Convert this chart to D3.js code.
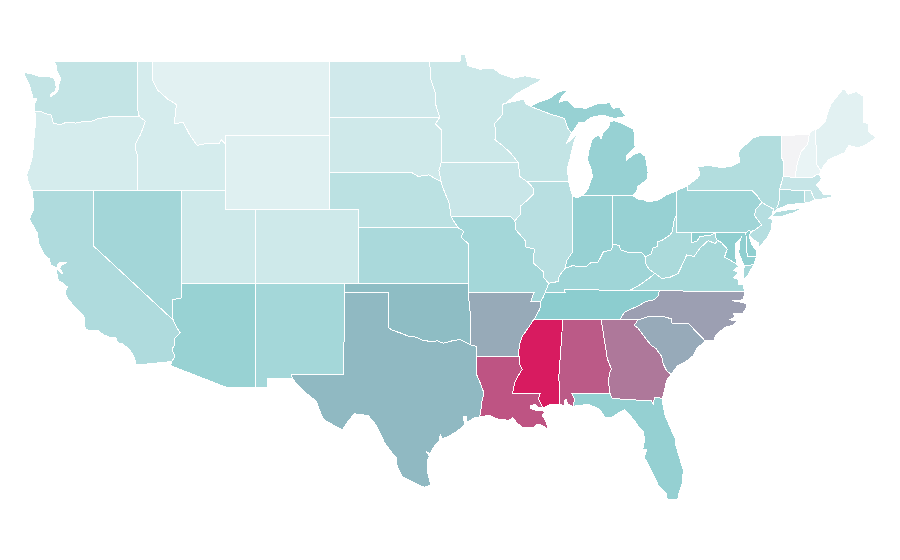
<!DOCTYPE html>
<html><head><meta charset="utf-8">
<style>html,body{margin:0;background:#fff}svg{display:block}</style>
<script src="https://cdn.jsdelivr.net/npm/d3@7"></script></head>
<body><svg id="map" width="900" height="560"></svg>
<script>
// Colour values, one per state
const states = ["WA","OR","CA","NV","ID","MT","WY","UT","CO","AZ","NM","ND","SD","NE","KS","OK","TX","MN","IA","MO","AR","LA","WI","IL","MI","IN","OH","KY","TN","MS","AL","GA","FL","SC","NC","VA","WV","MD","DE","PA","NY","NJ","CT","RI","MA","VT","NH","ME"];
const values = [22,13.5,31.5,37.2,13.5,7.3,8.7,16.8,16.8,42.6,36.7,15.9,16.3,25.8,33.9,54,55,17.8,19.2,36.7,59.5,83.8,22,27.2,43,43,43,39,48,100,82,73.6,44,59.4,62.5,35.8,33.4,46,46,38.6,30,28.7,32,22,20.6,0,4,7.3];
const colorDomain = [0,4,50,100];
const colorRange = ["#f3f3f5","#e9f4f5","#88cbcd","#d81b60"];

// Shared boundary lines, [longitude, latitude]
const arcs = {
n_wa:[[-122.76,49],[-117.04,49]],
id_wa:[[-117.04,49],[-117.04,46.42],[-116.92,46]],
wa_or:[[-124,46.27],[-123.55,46.25],[-123.2,46.15],[-122.9,46.08],[-122.8,45.85],[-122.75,45.65],[-122.3,45.55],[-121.9,45.68],[-121.2,45.65],[-120.65,45.74],[-120.2,45.73],[-119.6,45.92],[-119.1,45.93],[-118.98,46],[-116.92,46]],
c_wa:[[-124,46.27],[-124.05,46.65],[-123.85,46.95],[-124.1,46.95],[-124.2,47.25],[-124.4,47.75],[-124.65,48.15],[-124.72,48.38],[-124.2,48.3],[-123.7,48.17],[-123.1,48.15],[-122.75,48.12],[-122.6,47.85],[-122.55,47.6],[-122.62,47.35],[-122.95,47.2],[-122.9,47.08],[-122.55,47.28],[-122.4,47.5],[-122.36,47.75],[-122.25,48.05],[-122.38,48.28],[-122.5,48.45],[-122.55,48.78],[-122.76,49]],
c_or:[[-124,46.27],[-123.95,45.9],[-123.97,45.5],[-124.05,44.9],[-124.1,44.4],[-124.15,43.9],[-124.35,43.3],[-124.55,42.85],[-124.42,42.4],[-124.2,42]],
id_or:[[-116.92,46],[-116.5,45.75],[-116.85,45],[-117.2,44.5],[-117.2,44.3],[-117.03,43.85],[-117.03,42]],
nv_or:[[-120,42],[-117.03,42]],
ca_or:[[-124.2,42],[-120,42]],
ca_nv:[[-120,42],[-120,39],[-114.63,35]],
ca_az:[[-114.63,35],[-114.4,34.6],[-114.14,34.3],[-114.5,34],[-114.52,33.65],[-114.7,33.4],[-114.5,33],[-114.72,32.72]],
mx_ca:[[-114.72,32.72],[-117.12,32.53]],
c_ca:[[-124.2,42],[-124.1,41.5],[-124.07,41],[-124.38,40.45],[-124.1,40.1],[-123.82,39.7],[-123.75,39.2],[-123.4,38.6],[-123,38.3],[-122.95,38],[-122.5,37.82],[-122.45,38],[-122.3,38.12],[-121.85,38.1],[-122.2,38],[-122.3,37.8],[-122.1,37.5],[-122.4,37.7],[-122.5,37.75],[-122.5,37.5],[-122.4,37.15],[-122,36.95],[-121.8,36.8],[-121.95,36.55],[-121.85,36.25],[-121.3,35.7],[-120.9,35.4],[-120.65,35.15],[-120.63,34.6],[-120.45,34.45],[-119.7,34.4],[-119.25,34.15],[-118.8,34.02],[-118.5,34.03],[-118.4,33.75],[-118.1,33.72],[-117.6,33.4],[-117.28,33],[-117.12,32.53]],
id_nv:[[-117.03,42],[-114.04,42]],
nv_ut:[[-114.04,42],[-114.05,37]],
az_nv:[[-114.05,37],[-114.05,36.2],[-114.4,36.15],[-114.7,36.1],[-114.65,35.6],[-114.63,35]],
n_id:[[-117.04,49],[-116.05,49]],
id_mt:[[-116.05,49],[-116.05,48],[-115.7,47.45],[-115,46.95],[-114.4,46.65],[-114.55,45.6],[-113.95,45.7],[-113.45,44.95],[-113,44.45],[-112.3,44.55],[-111.5,44.55],[-111.35,44.75],[-111.05,44.5]],
id_wy:[[-111.05,44.5],[-111.05,42]],
id_ut:[[-111.05,42],[-114.04,42]],
n_mt:[[-116.05,49],[-104.05,49]],
mt_nd:[[-104.05,49],[-104.05,45.94]],
mt_sd:[[-104.05,45.94],[-104.05,45]],
mt_wy:[[-104.05,45],[-111.05,45]],
mt_wy2:[[-111.05,45],[-111.05,44.5]],
ut_wy:[[-111.05,42],[-111.05,41],[-109.05,41]],
co_wy:[[-109.05,41],[-104.05,41]],
ne_wy:[[-104.05,41],[-104.05,43]],
sd_wy:[[-104.05,43],[-104.05,45]],
co_ut:[[-109.05,41],[-109.05,37]],
az_ut:[[-109.05,37],[-114.05,37]],
ne_co:[[-104.05,41],[-102.05,41],[-102.05,40]],
co_ks:[[-102.05,40],[-102.05,37]],
co_ok:[[-102.05,37],[-103,37]],
co_nm:[[-103,37],[-109.05,37]],
mx_az:[[-114.72,32.72],[-114.8,32.5],[-111.07,31.33],[-109.05,31.33]],
az_nm:[[-109.05,31.33],[-109.05,37]],
nm_ok:[[-103,37],[-103,36.5]],
nm_tx:[[-103,36.5],[-103.06,32],[-106.62,32],[-106.53,31.78]],
mx_nm:[[-106.53,31.78],[-108.2,31.78],[-108.2,31.33],[-109.05,31.33]],
ok_ks:[[-102.05,37],[-94.62,37]],
tx_ok:[[-103,36.5],[-100,36.5],[-100,34.56],[-99.7,34.42],[-99.2,34.28],[-98.7,34.12],[-98.1,34.05],[-97.75,33.9],[-97.2,33.82],[-96.7,33.85],[-96.3,33.72],[-95.6,33.88],[-95.15,33.92],[-94.48,33.64]],
ar_ok:[[-94.48,33.64],[-94.48,35.4],[-94.62,36.5]],
mo_ok:[[-94.62,36.5],[-94.62,37]],
ar_tx:[[-94.48,33.64],[-94.04,33.55],[-94.04,33.02]],
la_tx:[[-94.04,33.02],[-94.04,32],[-93.8,31.55],[-93.55,31],[-93.7,30.5],[-93.75,30.1],[-93.84,29.7]],
c_tx:[[-93.84,29.7],[-94.2,29.65],[-94.7,29.4],[-94.7,29.75],[-94.95,29.7],[-94.85,29.3],[-95.3,28.95],[-95.9,28.65],[-96.4,28.5],[-96.5,28.75],[-96.6,28.38],[-97,28],[-97.2,27.7],[-97.45,27.8],[-97.25,27.55],[-97.4,27.3],[-97.35,26.6],[-97.15,25.96]],
mx_tx:[[-97.15,25.96],[-97.6,25.85],[-98.3,26.1],[-99.1,26.45],[-99.45,27.05],[-99.5,27.5],[-99.8,27.75],[-100.3,28.3],[-100.65,28.9],[-100.95,29.35],[-101.4,29.77],[-102.35,29.87],[-102.85,29.35],[-103.15,28.98],[-103.8,29.27],[-104.4,29.55],[-104.7,30.05],[-104.9,30.55],[-105.4,30.85],[-106.2,31.47],[-106.53,31.78]],
ks_ne:[[-102.05,40],[-95.31,40]],
ks_mo:[[-95.31,40],[-94.9,39.8],[-95.1,39.5],[-94.6,39.12],[-94.62,37]],
mo_ne:[[-95.77,40.58],[-95.31,40]],
ia_ne:[[-96.45,42.49],[-96.35,42.2],[-96.1,41.7],[-95.93,41.4],[-95.85,41],[-95.77,40.58]],
ne_sd:[[-104.05,43],[-98.5,43],[-98,42.77],[-97.3,42.85],[-96.45,42.49]],
sd_nd:[[-104.05,45.94],[-96.55,45.95]],
mn_sd:[[-96.45,43.5],[-96.45,45.3],[-96.85,45.6],[-96.55,45.95]],
ia_sd:[[-96.45,43.5],[-96.6,43.1],[-96.45,42.49]],
n_nd:[[-104.05,49],[-97.23,49]],
mn_nd:[[-96.55,45.95],[-96.8,46.6],[-96.85,47.3],[-97.15,48],[-97.23,49]],
n_mn:[[-97.23,49],[-95.15,49],[-95.15,49.38],[-94.8,49.33],[-94.65,48.75],[-93.8,48.55],[-93.35,48.62],[-92.95,48.62],[-92.4,48.3],[-91.5,48.07],[-90.8,48.2],[-90.1,48.1],[-89.6,48],[-90.5,47.6],[-91.3,47.25],[-92.05,46.72]],
mn_wi:[[-92.05,46.72],[-92.3,46.66],[-92.3,46.1],[-92.85,45.6],[-92.75,45.3],[-92.8,44.75],[-92.3,44.45],[-91.7,44],[-91.22,43.5]],
ia_mn:[[-91.22,43.5],[-96.45,43.5]],
ia_mo:[[-91.45,40.38],[-91.75,40.61],[-95.77,40.58]],
ia_il:[[-91.45,40.38],[-91.1,40.7],[-91.1,41.15],[-90.65,41.45],[-90.2,41.8],[-90.15,42.1],[-90.64,42.5]],
ia_wi:[[-90.64,42.5],[-91.1,42.75],[-91.22,43.5]],
il_mo:[[-89.15,37],[-89.5,37.3],[-89.5,37.6],[-90.2,38.1],[-90.2,38.4],[-90.12,38.85],[-90.7,38.95],[-90.75,39.3],[-91.4,39.9],[-91.45,40.38]],
ky_mo:[[-89.15,37],[-89.4,36.5]],
mo_tn:[[-89.4,36.5],[-89.53,36.25],[-89.7,36]],
ar_mo:[[-89.7,36],[-90.37,36],[-90.15,36.5],[-94.62,36.5]],
ar_tn:[[-89.7,36],[-89.75,35.6],[-90.1,35.1],[-90.2,35]],
ar_ms:[[-90.2,35],[-90.3,34.85],[-90.6,34.5],[-90.95,34.1],[-91.1,33.75],[-91.2,33.3],[-91.17,33]],
ar_la:[[-94.04,33.02],[-91.17,33]],
la_ms:[[-91.17,33],[-91.1,32.5],[-90.95,32.3],[-91.15,32.05],[-91.45,31.6],[-91.6,31],[-89.73,31],[-89.85,30.7],[-89.75,30.5],[-89.55,30.2]],
c_la:[[-93.84,29.7],[-93.2,29.78],[-92.6,29.58],[-92.2,29.55],[-91.85,29.5],[-91.6,29.65],[-91.3,29.35],[-90.9,29.1],[-90.2,29.1],[-90.05,29.25],[-89.75,29.3],[-89.45,29.15],[-89.15,29],[-89.4,29.55],[-89.6,29.75],[-89.4,30],[-89.75,30.05],[-90,30.05],[-90.4,30.15],[-90.4,30.3],[-90.1,30.37],[-89.8,30.2],[-89.55,30.2]],
c_ms:[[-89.55,30.2],[-89,30.38],[-88.4,30.37]],
al_ms:[[-88.4,30.37],[-88.47,31.9],[-88.2,35]],
ms_tn:[[-88.2,35],[-90.2,35]],
al_tn:[[-88.2,35],[-85.6,35]],
al_ga:[[-85.6,35],[-85.18,32.87],[-84.9,32.3],[-85.05,32.1],[-85.1,31.55],[-85,31]],
al_fl:[[-85,31],[-87.6,31],[-87.4,30.65],[-87.52,30.28]],
c_al:[[-87.52,30.28],[-87.9,30.4],[-87.93,30.65],[-88.05,30.65],[-88.13,30.33],[-88.4,30.37]],
ga_tn:[[-85.6,35],[-84.32,35]],
ga_nc:[[-84.32,35],[-83.11,35]],
ga_sc:[[-83.11,35],[-83.35,34.7],[-83.1,34.55],[-82.6,34],[-82.2,33.6],[-81.9,33.45],[-81.5,33],[-81.4,32.6],[-81.15,32.2],[-80.85,32.03]],
c_ga:[[-80.85,32.03],[-81.15,31.7],[-81.3,31.2],[-81.45,30.72]],
fl_ga:[[-81.45,30.72],[-82,30.75],[-82.05,30.37],[-82.2,30.57],[-84.86,30.7],[-85,31]],
c_fl:[[-87.52,30.28],[-86.5,30.38],[-85.75,30.15],[-85.35,29.68],[-84.9,29.65],[-84.35,29.95],[-84,30.1],[-83.4,29.55],[-83.05,29.15],[-82.75,28.9],[-82.65,28.4],[-82.8,27.9],[-82.5,27.9],[-82.7,27.5],[-82.4,27.1],[-82.05,26.5],[-81.8,26.1],[-81.7,25.9],[-81.2,25.5],[-81.1,25.15],[-80.4,25.2],[-80.3,25.6],[-80.1,26.1],[-80.03,26.8],[-80.3,27.5],[-80.55,28.2],[-80.55,28.45],[-80.85,29],[-81.25,29.75],[-81.4,30.3],[-81.45,30.72]],
c_sc:[[-80.85,32.03],[-80.65,32.25],[-80.4,32.5],[-79.9,32.7],[-79.35,33.05],[-79.15,33.4],[-78.55,33.85]],
nc_sc:[[-78.55,33.85],[-79.68,34.8],[-80.8,34.82],[-80.8,35.05],[-81.05,35.1],[-81.05,35.15],[-82.3,35.2],[-83.11,35]],
nc_tn:[[-84.32,35],[-84.05,35.4],[-83.7,35.55],[-83.1,35.75],[-82.6,36],[-82,36.1],[-81.7,36.35],[-81.67,36.59]],
nc_va:[[-81.67,36.59],[-75.87,36.55]],
c_nc:[[-75.87,36.55],[-75.95,36.1],[-76.7,36.05],[-76,35.95],[-75.75,35.85],[-75.75,35.65],[-76,35.35],[-76.65,35.35],[-76.5,35.15],[-76.9,35],[-76.35,34.95],[-76.65,34.7],[-77.2,34.6],[-77.85,34.15],[-77.95,33.85],[-78.55,33.85]],
tn_va:[[-81.67,36.59],[-83.68,36.6]],
ky_tn:[[-83.68,36.6],[-88.07,36.67],[-88.05,36.5],[-89.4,36.5]],
ky_va:[[-83.68,36.6],[-83.1,36.85],[-82.3,37.3],[-81.97,37.54]],
ky_wv:[[-81.97,37.54],[-82.35,37.75],[-82.6,38.1],[-82.6,38.43]],
oh_wv:[[-82.6,38.43],[-82.2,38.6],[-82.1,38.9],[-81.75,39],[-81.75,39.25],[-81.4,39.35],[-80.95,39.6],[-80.8,39.75],[-80.65,40.4],[-80.52,40.64]],
ky_oh:[[-82.6,38.43],[-82.85,38.65],[-83.4,38.65],[-83.7,38.64],[-84.25,38.8],[-84.4,39.05],[-84.82,39.1]],
in_ky:[[-84.82,39.1],[-84.9,38.8],[-85.45,38.7],[-85.7,38.3],[-85.85,38.1],[-86.3,38.12],[-86.6,37.9],[-87.05,37.9],[-87.55,37.95],[-88.05,37.8]],
il_ky:[[-88.05,37.8],[-88.45,37.4],[-88.5,37.1],[-89.15,37]],
il_in:[[-87.53,41.7],[-87.53,38.7],[-87.95,38.2],[-88.05,37.8]],
il_wi:[[-90.64,42.5],[-87.8,42.5]],
il_lake:[[-87.8,42.5],[-87.6,41.85],[-87.53,41.7]],
in_lake:[[-87.53,41.7],[-87.2,41.62],[-86.82,41.76]],
in_mi:[[-86.82,41.76],[-84.8,41.76]],
in_oh:[[-84.8,41.76],[-84.82,39.1]],
oh_mi:[[-83.45,41.73],[-84.8,41.76]],
oh_lake:[[-80.52,41.98],[-81.2,41.77],[-81.7,41.5],[-82.4,41.4],[-82.7,41.5],[-83,41.5],[-83.45,41.73]],
oh_pa:[[-80.52,40.64],[-80.52,41.98]],
c_mil:[[-86.82,41.76],[-86.5,42.1],[-86.2,42.75],[-86.25,43.1],[-86.53,43.65],[-86.45,44.1],[-86.25,44.7],[-86.05,44.9],[-85.75,45],[-85.6,44.8],[-85.5,45.1],[-85.1,45.4],[-85,45.7],[-84.75,45.78],[-84.2,45.63],[-83.45,45.35],[-83.3,45],[-83.35,44.85],[-83.3,44.35],[-83.9,43.9],[-83.9,43.65],[-83.4,43.95],[-82.95,44.07],[-82.6,43.85],[-82.42,43],[-82.5,42.6],[-82.9,42.35],[-83.1,42.25],[-83.2,41.95],[-83.45,41.73]],
mi_wi:[[-87.6,45.1],[-87.85,45.35],[-88.1,45.9],[-89.1,46.15],[-90.4,46.55]],
c_up:[[-90.4,46.55],[-89.8,46.8],[-89.1,46.98],[-88.45,47.35],[-87.8,47.45],[-88.3,47.05],[-88.45,46.78],[-87.9,46.9],[-87.4,46.5],[-86.6,46.45],[-85.9,46.68],[-85,46.75],[-84.8,46.45],[-84.35,46.5],[-84.1,46.2],[-83.9,46],[-84.7,45.9],[-85.5,46.08],[-86.3,45.95],[-86.7,45.7],[-87.1,45.7],[-87.6,45.1]],
isle_royale:[[-89.2,47.85],[-88.45,48.15],[-88.95,47.95],[-89.2,47.85]],
wi_sup:[[-90.4,46.55],[-90.75,46.7],[-90.8,46.95],[-91.25,46.87],[-92.05,46.72]],
wi_lake:[[-87.8,42.5],[-87.9,43.2],[-87.7,43.75],[-87.55,44.3],[-87.35,44.85],[-87.05,45.25],[-87.5,44.85],[-87.95,44.55],[-87.6,45.1]],
pa_erie:[[-80.52,41.98],[-79.76,42.27]],
ny_pa:[[-79.76,42.27],[-79.76,42],[-75.35,42],[-75.05,41.75],[-74.7,41.36]],
nj_pa:[[-74.7,41.36],[-75.13,40.98],[-75.2,40.65],[-74.72,40.15],[-75.13,39.9],[-75.4,39.8]],
de_pa:[[-75.4,39.8],[-75.6,39.84],[-75.79,39.72]],
md_pa:[[-75.79,39.72],[-79.48,39.72]],
pa_wv:[[-79.48,39.72],[-80.52,39.72],[-80.52,40.64]],
ny_lake:[[-79.76,42.27],[-79.05,42.7],[-78.9,42.9],[-79.05,43.27],[-78.4,43.37],[-77.5,43.25],[-76.8,43.3],[-76.2,43.55],[-76.3,44],[-76.2,44.2],[-75.3,44.85],[-74.7,45],[-73.35,45]],
ny_vt:[[-73.35,45],[-73.4,44.5],[-73.35,43.75],[-73.25,43.6],[-73.27,42.75]],
ma_ny:[[-73.27,42.75],[-73.5,42.05]],
ct_ny:[[-73.5,42.05],[-73.55,41.3],[-73.7,41.1],[-73.65,41]],
ny_city:[[-73.65,41],[-73.9,40.8],[-74.02,40.7]],
nj_ny:[[-74.02,40.7],[-73.9,41],[-74.7,41.36]],
long_island:[[-74.03,40.6],[-73.75,40.85],[-73.1,40.95],[-72.6,40.98],[-72.3,41.15],[-72.65,40.98],[-71.9,41.07],[-72.5,40.82],[-73.3,40.63],[-74.03,40.6]],
c_nj:[[-74.02,40.7],[-74.25,40.5],[-74,40.45],[-74.05,39.9],[-74.4,39.4],[-74.9,38.93],[-74.95,39.2],[-75.4,39.42],[-75.55,39.6],[-75.4,39.8]],
de_md:[[-75.79,39.72],[-75.7,38.46]],
de_s:[[-75.7,38.46],[-75.05,38.45]],
c_de:[[-75.05,38.45],[-75.1,38.8],[-75.4,39.1],[-75.55,39.5],[-75.4,39.8]],
md_wv:[[-79.48,39.72],[-79.48,39.2],[-79.13,39.25],[-78.9,39.52],[-78.2,39.6],[-77.87,39.7],[-77.82,39.45],[-77.72,39.32]],
md_va:[[-77.72,39.32],[-77.45,39.2],[-77.05,38.85],[-77.25,38.4],[-76.95,38.3],[-76.35,38]],
c_md:[[-76.35,38],[-76.5,38.4],[-76.5,38.9],[-76.45,39.2],[-76.1,39.45],[-76.05,39.55],[-76.25,39.2],[-76.2,38.95],[-76.3,38.7],[-76.1,38.3],[-75.9,37.95]],
md_vaes:[[-75.9,37.95],[-75.65,37.95],[-75.25,38.03]],
c_md2:[[-75.25,38.03],[-75.05,38.45]],
c_vaes:[[-75.25,38.03],[-75.6,37.5],[-75.95,37.15],[-75.95,37.5],[-75.9,37.95]],
va_wv:[[-81.97,37.54],[-81.5,37.27],[-81,37.3],[-80.38,37.54],[-80.1,38],[-79.8,38.53],[-79.3,38.45],[-78.9,38.9],[-78.35,39.3],[-77.85,39.15],[-77.72,39.32]],
c_va:[[-76.35,38],[-76.3,37.9],[-76.6,37.7],[-76.3,37.6],[-76.6,37.3],[-76.3,37.2],[-76.3,36.95],[-75.97,36.9],[-75.87,36.55]],
ct_ma:[[-73.5,42.05],[-71.8,42.02]],
ct_ri:[[-71.8,42.02],[-71.85,41.32]],
c_ct:[[-71.85,41.32],[-72.9,41.25],[-73.65,41]],
c_ri:[[-71.85,41.32],[-71.5,41.37],[-71.2,41.47],[-71.12,41.5]],
ma_ri:[[-71.12,41.5],[-71.33,41.9],[-71.38,42.02],[-71.8,42.02]],
c_ma:[[-71.12,41.5],[-70.6,41.55],[-69.95,41.67],[-70.05,42.05],[-70,41.78],[-70.5,41.78],[-70.65,41.95],[-71,42.3],[-70.65,42.65],[-70.8,42.87]],
ma_nh:[[-70.8,42.87],[-71,42.87],[-71.3,42.7],[-72.46,42.73]],
ma_vt:[[-72.46,42.73],[-73.27,42.75]],
n_vt:[[-73.35,45],[-71.5,45.01]],
nh_vt:[[-71.5,45.01],[-71.6,44.5],[-72.05,44.1],[-72.3,43.5],[-72.46,42.73]],
c_nh:[[-70.8,42.87],[-70.7,43.07]],
me_nh:[[-70.7,43.07],[-70.97,43.4],[-71.08,45.3]],
n_nh:[[-71.08,45.3],[-71.4,45.2],[-71.5,45.01]],
c_me:[[-71.08,45.3],[-70.8,45.4],[-70.4,45.75],[-70.25,46.2],[-70,46.7],[-69.23,47.46],[-69.05,47.43],[-68.85,47.2],[-68.3,47.36],[-67.8,47.07],[-67.8,45.7],[-67.45,45.6],[-67.45,45.2],[-66.98,44.85],[-67.6,44.5],[-68.2,44.3],[-68.8,44.45],[-69.1,44.05],[-69.7,43.85],[-70.2,43.65],[-70.55,43.3],[-70.7,43.07]]
};

// Which lines close each state's outline(s)
const outlines = {
WA:[["n_wa","id_wa","wa_or","c_wa"]],
OR:[["wa_or","id_or","nv_or","ca_or","c_or"]],
CA:[["ca_or","ca_nv","ca_az","mx_ca","c_ca"]],
NV:[["ca_nv","az_nv","nv_ut","id_nv","nv_or"]],
ID:[["n_id","id_mt","id_wy","id_ut","id_nv","id_or","id_wa"]],
MT:[["n_mt","mt_nd","mt_sd","mt_wy","mt_wy2","id_mt"]],
WY:[["mt_wy","mt_wy2","id_wy","ut_wy","co_wy","ne_wy","sd_wy"]],
UT:[["ut_wy","co_ut","az_ut","nv_ut","id_ut"]],
CO:[["co_wy","ne_co","co_ks","co_ok","co_nm","co_ut"]],
AZ:[["az_ut","az_nv","ca_az","mx_az","az_nm"]],
NM:[["nm_ok","nm_tx","mx_nm","az_nm","co_nm"]],
ND:[["n_nd","mn_nd","sd_nd","mt_nd"]],
SD:[["sd_nd","mn_sd","ia_sd","ne_sd","sd_wy","mt_sd"]],
NE:[["ne_co","ks_ne","mo_ne","ia_ne","ne_sd","ne_wy"]],
KS:[["ok_ks","ks_mo","ks_ne","co_ks"]],
OK:[["ok_ks","mo_ok","ar_ok","tx_ok","nm_ok","co_ok"]],
TX:[["nm_tx","tx_ok","ar_tx","la_tx","c_tx","mx_tx"]],
MN:[["n_mn","mn_wi","ia_mn","mn_sd","mn_nd"]],
IA:[["ia_mn","ia_sd","ia_ne","ia_mo","ia_il","ia_wi"]],
MO:[["il_mo","ia_mo","mo_ne","ks_mo","mo_ok","ar_mo","mo_tn","ky_mo"]],
AR:[["ar_mo","ar_ok","ar_tx","ar_la","ar_ms","ar_tn"]],
LA:[["ar_la","la_ms","c_la","la_tx"]],
WI:[["il_wi","wi_lake","mi_wi","wi_sup","mn_wi","ia_wi"]],
IL:[["il_mo","ia_il","il_wi","il_lake","il_in","il_ky"]],
MI:[["c_mil","oh_mi","in_mi"],["mi_wi","c_up"],["isle_royale"]],
IN:[["il_in","in_ky","in_oh","in_mi","in_lake"]],
OH:[["in_oh","ky_oh","oh_wv","oh_pa","oh_lake","oh_mi"]],
KY:[["ky_va","ky_wv","ky_oh","in_ky","il_ky","ky_mo","ky_tn"]],
TN:[["al_tn","ga_tn","nc_tn","tn_va","ky_tn","mo_tn","ar_tn","ms_tn"]],
MS:[["ms_tn","ar_ms","la_ms","c_ms","al_ms"]],
AL:[["al_ms","al_tn","al_ga","al_fl","c_al"]],
GA:[["ga_tn","ga_nc","ga_sc","c_ga","fl_ga","al_ga"]],
FL:[["al_fl","c_fl","fl_ga"]],
SC:[["ga_sc","c_sc","nc_sc"]],
NC:[["c_nc","nc_sc","ga_nc","nc_tn","nc_va"]],
VA:[["tn_va","ky_va","va_wv","md_va","c_va","nc_va"],["md_vaes","c_vaes"]],
WV:[["ky_wv","oh_wv","pa_wv","md_wv","va_wv"]],
MD:[["md_pa","md_wv","md_va","c_md","md_vaes","c_md2","de_s","de_md"]],
DE:[["de_pa","de_md","de_s","c_de"]],
PA:[["oh_pa","pa_erie","ny_pa","nj_pa","de_pa","md_pa","pa_wv"]],
NY:[["ny_lake","ny_vt","ma_ny","ct_ny","ny_city","nj_ny","ny_pa"],["long_island"]],
NJ:[["nj_pa","c_nj","nj_ny"]],
CT:[["ct_ma","ct_ri","c_ct","ct_ny"]],
RI:[["ct_ri","c_ri","ma_ri"]],
MA:[["ma_ny","ct_ma","ma_ri","c_ma","ma_nh","ma_vt"]],
VT:[["n_vt","nh_vt","ma_vt","ny_vt"]],
NH:[["nh_vt","ma_nh","c_nh","me_nh","n_nh"]],
ME:[["me_nh","c_me"]]
};

const same = (a,b) => a[0]===b[0] && a[1]===b[1];
function ring(names){
  let out = arcs[names[0]].slice();
  names.slice(1).forEach((n,i)=>{
    const a = arcs[n], end = out[out.length-1];
    if (i===0 && !same(a[0],end) && !same(a[a.length-1],end)) out.reverse();
    const e2 = out[out.length-1];
    if (same(a[0],e2)) out = out.concat(a.slice(1));
    else if (same(a[a.length-1],e2)) out = out.concat(a.slice().reverse().slice(1));
    else { console.error("gap", names[0], n); out = out.concat(a); }
  });
  return out;
}

const x = d3.scaleLinear().domain([-124.7,-67]).range([24.5,875.5]);
const y = d3.scaleLinear().domain([25.1,37,49]).range([501,283.3,61]);
const color = d3.scaleLinear().domain(colorDomain).range(colorRange);
const path = d3.geoPath(d3.geoTransform({point(lon,lat){this.stream.point(x(lon),y(lat));}}));

const features = states.map((id,i)=>({type:"Feature",id,properties:{value:values[i]},
  geometry:{type:"MultiPolygon",coordinates:outlines[id].map(o=>[ring(o)])}}));

d3.select("#map").selectAll("path").data(features).join("path")
  .attr("d",path)
  .attr("fill",d=>color(d.properties.value))
  .attr("stroke","#fff")
  .attr("stroke-width",1)
  .attr("stroke-linejoin","round")
  .attr("shape-rendering","crispEdges")
  .append("title").text(d=>d.id);
</script></body></html>
